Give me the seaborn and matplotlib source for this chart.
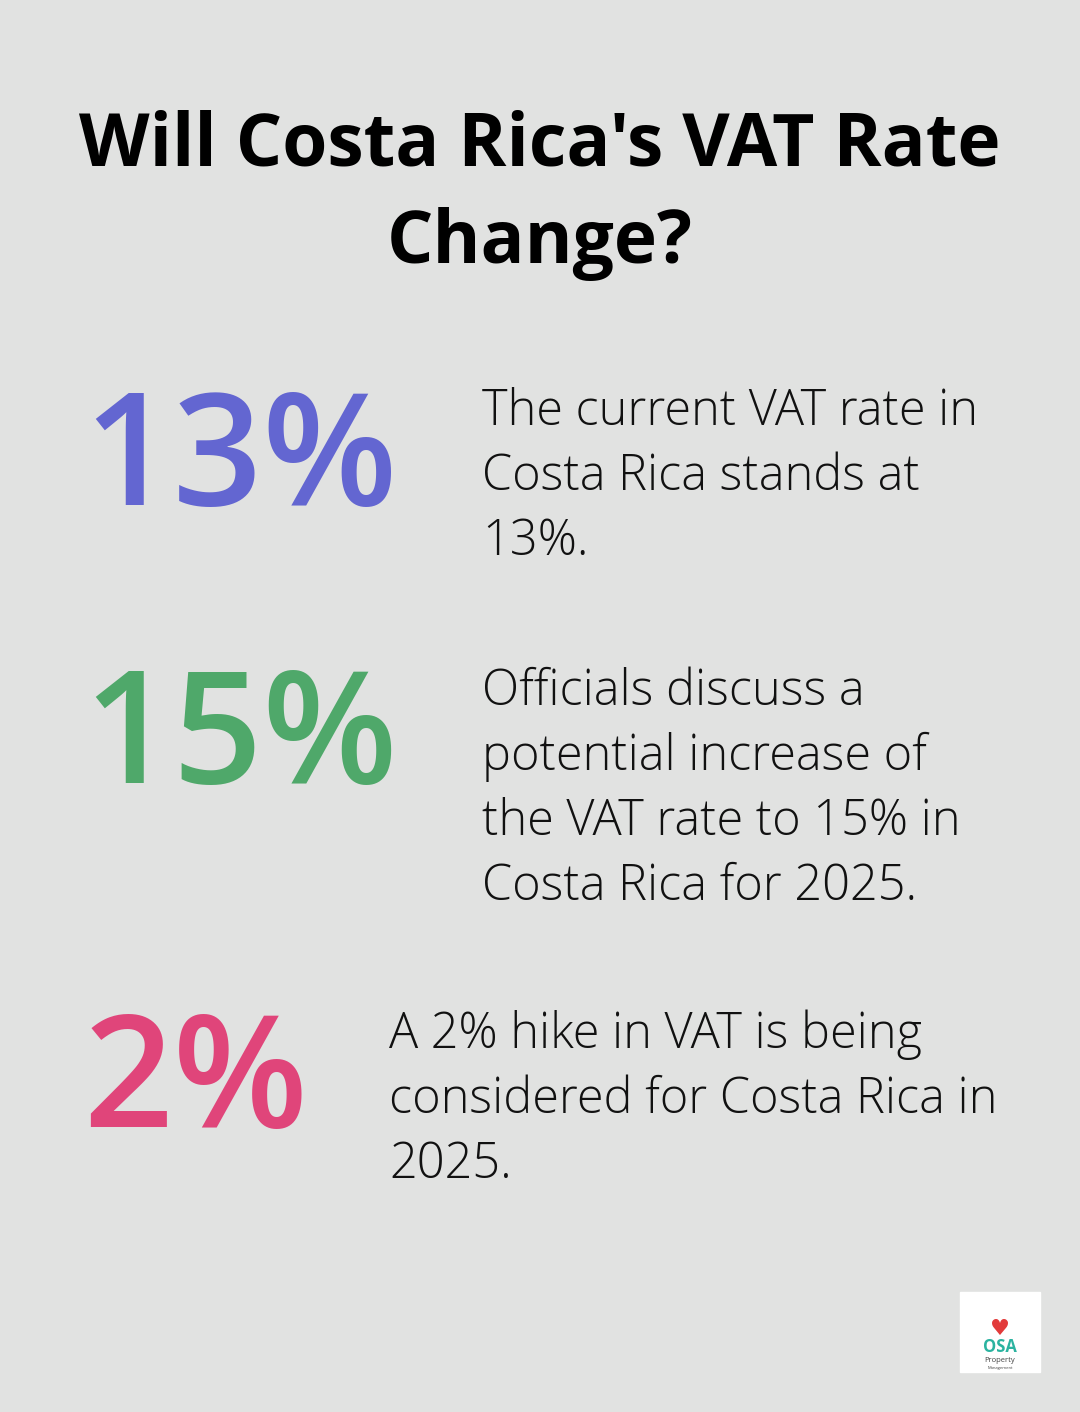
import matplotlib
matplotlib.use("Agg")
import matplotlib.pyplot as plt
import seaborn as sns

title_lines = ["Will Costa Rica's VAT Rate", "Change?"]
stats = ["13%", "15%", "2%"]
colors = ["#6366d1", "#4fa86a", "#e0457a"]
descriptions = [
    ["The current VAT rate in", "Costa Rica stands at", "13%."],
    ["Officials discuss a", "potential increase of", "the VAT rate to 15% in", "Costa Rica for 2025."],
    ["A 2% hike in VAT is being", "considered for Costa Rica in", "2025."],
]

sns.set_theme(style="white", rc={"axes.facecolor": "#e1e2e1", "figure.facecolor": "#e1e2e1"})
fig = plt.figure(figsize=(10.8, 14.12), dpi=100)
ax = fig.add_axes([0, 0, 1, 1])
ax.set_xlim(0, 1080)
ax.set_ylim(1412, 0)
ax.axis("off")

for i, line in enumerate(title_lines):
    ax.text(540, 165 + i * 98, line, ha="center", va="baseline", fontsize=52.6,
            fontweight="bold", family="Open Sans", color="#000000")

stat_base = [505, 783, 1127]
text_x = [482, 482, 389]
text_first = [425, 705, 1048]
for s, c, d, sb, tx, tf in zip(stats, colors, descriptions, stat_base, text_x, text_first):
    ax.text(83, sb, s, ha="left", va="baseline", fontsize=113, family="Open Sans",
            fontweight="semibold", color=c)
    for j, line in enumerate(d):
        ax.text(tx, tf + j * 65, line, ha="left", va="baseline", fontsize=35,
                family="Open Sans", fontweight="light", color="#111111")

ax.add_patch(plt.Rectangle((960, 1292), 80, 80, color="white"))
ax.text(1000, 1352, "OSA", ha="center", va="baseline", fontsize=12, fontweight="bold", color="#2bb3a0", family="Open Sans")
ax.text(1000, 1362, "Property", ha="center", va="baseline", fontsize=5.5, color="#444444", family="Open Sans")
ax.text(1000, 1369, "Management", ha="center", va="baseline", fontsize=3, color="#444444", family="Open Sans")
ax.text(1000, 1335, "\u2665", ha="center", va="baseline", fontsize=16, color="#e23b3b")

fig.savefig("out.png", dpi=100)
